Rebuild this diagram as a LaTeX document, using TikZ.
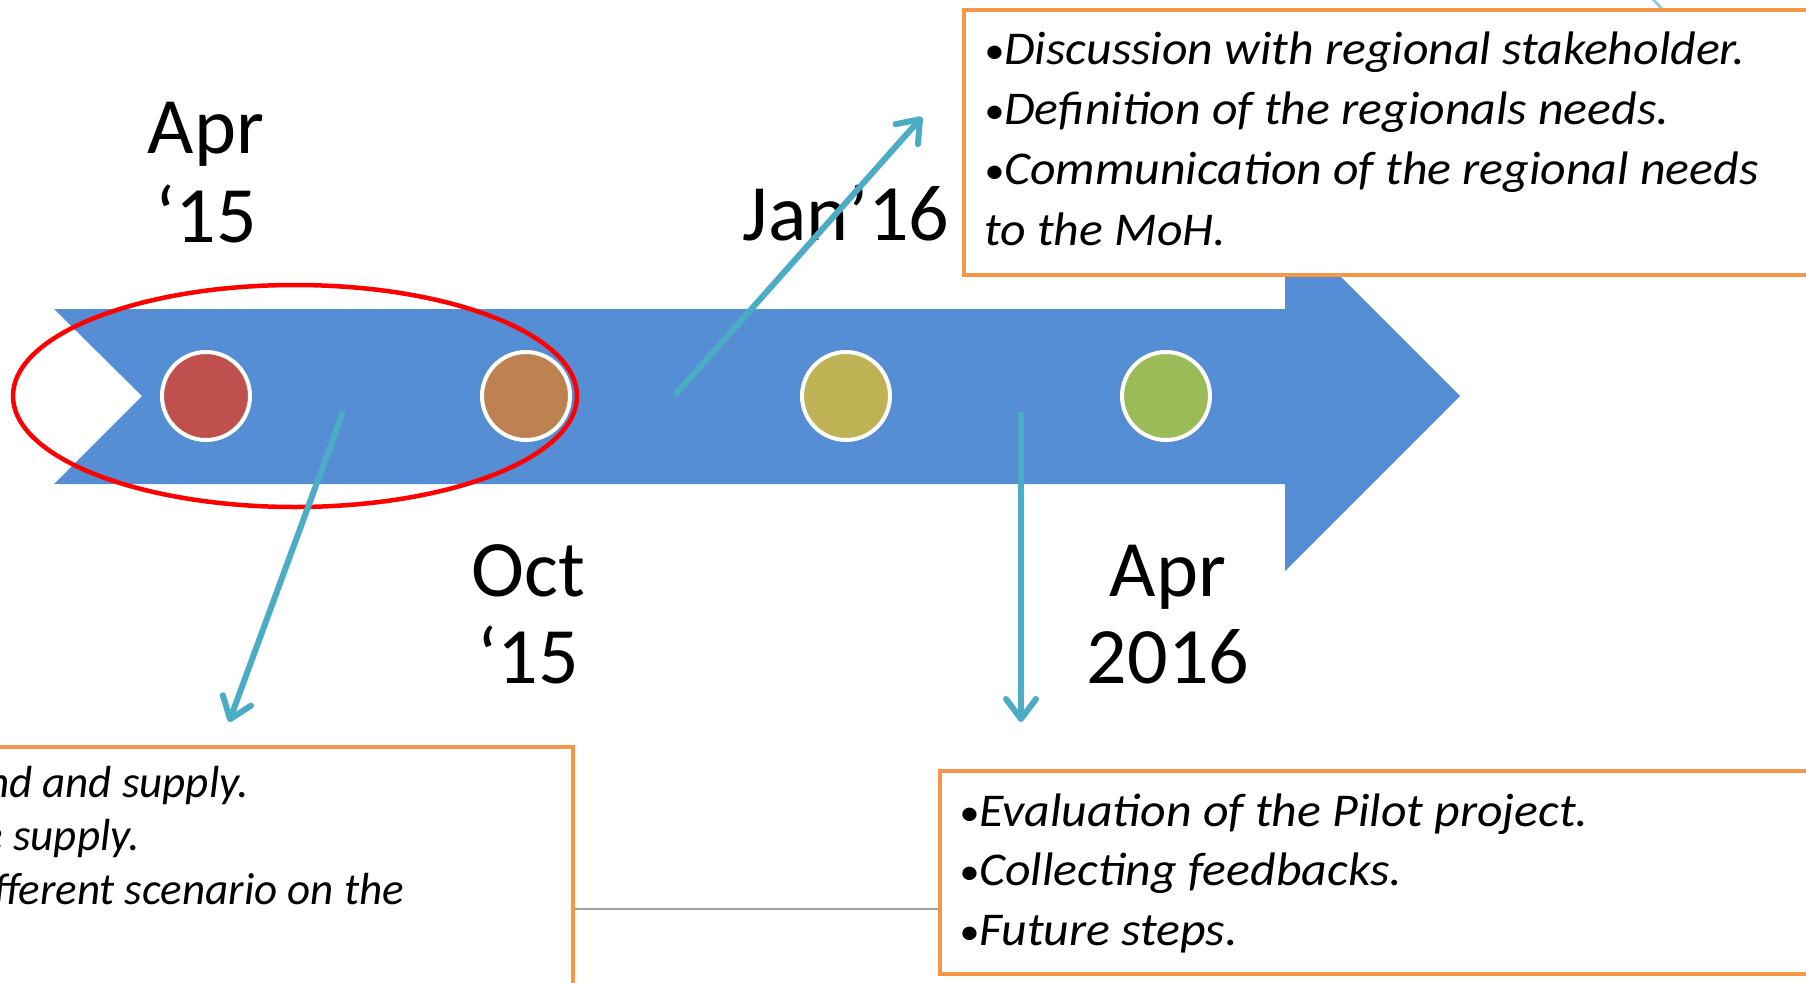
\documentclass[tikz,border=0pt]{standalone}
\usepackage{fontspec}
\setmainfont{Carlito}
\newfontfamily\boxfont[FakeStretch=1.06]{Carlito}
\usetikzlibrary{arrows.meta,shapes.geometric}
\definecolor{bandblue}{RGB}{85,142,213}
\definecolor{dotred}{RGB}{192,80,77}
\definecolor{dotorange}{RGB}{190,130,80}
\definecolor{dotolive}{RGB}{190,178,85}
\definecolor{dotgreen}{RGB}{155,187,89}
\definecolor{arrowcyan}{RGB}{75,172,198}
\definecolor{boxorange}{RGB}{247,150,70}
\definecolor{ringred}{RGB}{255,0,0}
\definecolor{linegray}{RGB}{160,160,160}
\newcommand{\bul}{{\fontsize{38}{38}\selectfont\raisebox{1pt}{•}}}
\begin{document}
\begin{tikzpicture}[x=1pt,y=-1pt,
  dot/.style={circle, minimum size=88pt, inner sep=0pt, draw=white, line width=4pt},
  datelbl/.style={font=\fontsize{80}{96}\selectfont, inner sep=0pt, anchor=base},
  conn/.style={draw=arrowcyan, line width=6pt, -{Straight Barb[round, length=20pt, width=30pt]}},
  infobox/.style={draw=boxorange, line width=4pt, fill=white, inner sep=0pt},
  boxtxt/.style={font=\boxfont\fontsize{47}{55}\selectfont\itshape, inner sep=0pt},
  lefttxt/.style={font=\fontsize{45}{52}\selectfont\itshape, inner sep=0pt}
]
\useasboundingbox (0,0) rectangle (1806,982);
\fill[white] (0,0) rectangle (1806,982);
\clip (0,0) rectangle (1806,982);

% timeline band
\fill[bandblue] (54,309) -- (1285,309) -- (1285,221) -- (1460,396) -- (1285,571)
  -- (1285,484) -- (54,484) -- (142,396) -- cycle;

% milestone dots
\node[dot, fill=dotred] (d1) at (206,396) {};
\node[dot, fill=dotorange] (d2) at (526,396) {};
\node[dot, fill=dotolive] (d3) at (846,396) {};
\node[dot, fill=dotgreen] (d4) at (1166,396) {};

% red ring
\node[ellipse, draw=ringred, line width=4.5pt, minimum width=564pt, minimum height=222pt, inner sep=0pt] (ring) at (295,396) {};

% dates
\node[datelbl] (apr15a) at (206,153) {Apr};
\node[datelbl] (apr15b) at (206,242) {‘15};
\node[datelbl] (oct15a) at (528,596) {Oct};
\node[datelbl] (oct15b) at (528,683) {‘15};
\node[datelbl] (jan16) at (846,240) {Jan’16};
\node[datelbl] (apr16a) at (1168,596) {Apr};
\node[datelbl] (apr16b) at (1168,683) {2016};

% connectors
\coordinate (s1) at (343,412);
\coordinate (e1) at (229,722);
\coordinate (s2) at (675,395);
\coordinate (e2) at (922,117);
\coordinate (s3) at (1021,412);
\coordinate (e3) at (1021,722);
\draw[conn] (s1) -- (e1);
\draw[conn] (s2) -- (e2);
\draw[conn] (s3) -- (e3);
\coordinate (s4) at (1650,-4);
\coordinate (e4) at (1662,9);
\draw[arrowcyan!60, line width=3pt] (s4) -- (e4);

% boxes
\node[infobox, anchor=north west, minimum width=900pt, minimum height=265pt] (topbox) at (962,8) {};
\node[infobox, anchor=north west, minimum width=900pt, minimum height=203pt] (brbox) at (938,769) {};
\node[infobox, anchor=north east, minimum width=620pt, minimum height=270pt] (blbox) at (575,745) {};

% box texts
\node[boxtxt, anchor=base west] (t1) at (984,64) {\bul Discussion with regional stakeholder.};
\node[boxtxt, anchor=base west] (t2) at (984,124) {\bul Definition of the regionals needs.};
\node[boxtxt, anchor=base west] (t3) at (984,184) {\bul Communication of the regional needs};
\node[boxtxt, anchor=base west] (t4) at (984,245) {to the MoH.};

\node[boxtxt, anchor=base west] (b1) at (959,826) {\bul Evaluation of the Pilot project.};
\node[boxtxt, anchor=base west] (b2) at (959,885) {\bul Collecting feedbacks.};
\node[boxtxt, anchor=base west] (b3) at (959,945) {\bul Future steps.};

\node[lefttxt, anchor=base east] (l1) at (249,797) {nd and supply.};
\node[lefttxt, anchor=base east] (l2) at (140,850) {e supply.};
\node[lefttxt, anchor=base east] (l3) at (404,904) {fferent scenario on the};

% grey link between boxes
\coordinate (gl) at (0,909);
\draw[linegray, line width=2pt] (blbox.east |- gl) -- (brbox.west |- gl);
\end{tikzpicture}
\end{document}
